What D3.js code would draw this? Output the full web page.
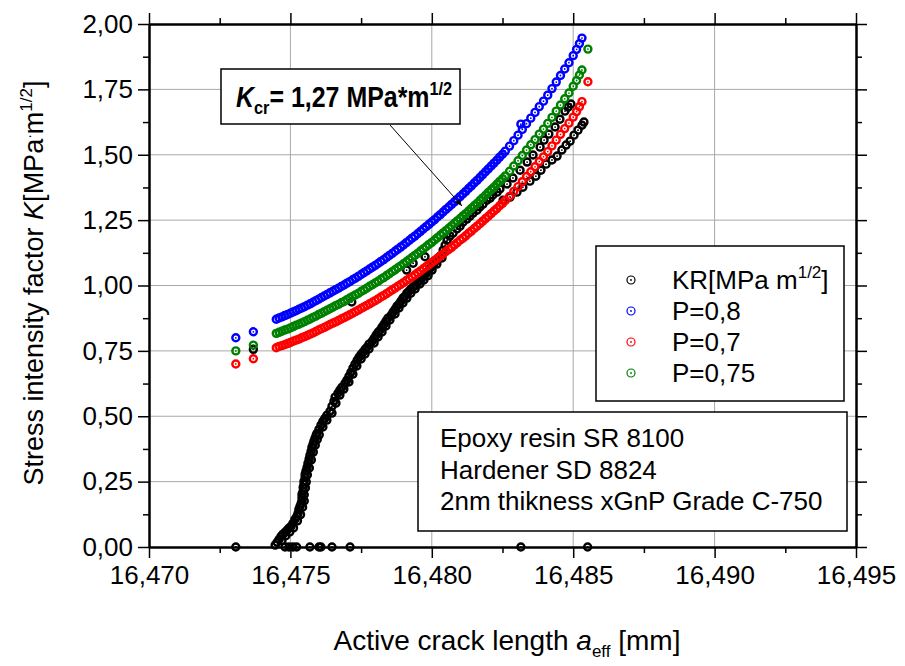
<!DOCTYPE html>
<html>
<head>
<meta charset="utf-8">
<script src="https://cdn.jsdelivr.net/npm/d3@7"></script>
<style>
  body { margin: 0; background: #fff; }
  svg { font-family: "Liberation Sans", Arial, sans-serif; }
</style>
</head>
<body>
<div id="chart"></div>
<script>
// Active crack length a_eff [mm] shared by the three P curves
const aModel = [
  16.4745, 16.4746, 16.4747, 16.4748, 16.4749, 16.4750, 16.4751, 16.4752, 16.4753, 16.4754,
  16.4755, 16.4756, 16.4757, 16.4758, 16.4759, 16.4760, 16.4761, 16.4762, 16.4763, 16.4764,
  16.4765, 16.4766, 16.4767, 16.4768, 16.4769, 16.4770, 16.4771, 16.4772, 16.4773, 16.4774,
  16.4775, 16.4776, 16.4777, 16.4778, 16.4779, 16.4780, 16.4781, 16.4782, 16.4783, 16.4784,
  16.4785, 16.4786, 16.4787, 16.4788, 16.4789, 16.4790, 16.4791, 16.4792, 16.4793, 16.4794,
  16.4795, 16.4796, 16.4797, 16.4798, 16.4799, 16.4800, 16.4801, 16.4802, 16.4803, 16.4804,
  16.4805, 16.4806, 16.4807, 16.4808, 16.4809, 16.4810, 16.4811, 16.4812, 16.4813, 16.4814,
  16.4815, 16.4816, 16.4817, 16.4818, 16.4819, 16.4820, 16.4821, 16.4822, 16.4823, 16.4824,
  16.4825, 16.4826,
  16.48275, 16.48290, 16.48305, 16.48320, 16.48335, 16.48350, 16.48365, 16.48380, 16.48395, 16.48410,
  16.48425, 16.48440, 16.48455, 16.48470, 16.48485, 16.48500, 16.48512, 16.48522, 16.48531
];
// K for P=0,8
const kP08 = [
  0.871, 0.876, 0.880, 0.885, 0.889, 0.894, 0.899, 0.904, 0.909, 0.914,
  0.919, 0.925, 0.930, 0.936, 0.942, 0.948, 0.954, 0.960, 0.966, 0.972,
  0.978, 0.984, 0.990, 0.996, 1.002, 1.009, 1.015, 1.022, 1.028, 1.035,
  1.042, 1.049, 1.056, 1.063, 1.070, 1.077, 1.084, 1.092, 1.099, 1.107,
  1.115, 1.123, 1.131, 1.139, 1.147, 1.155, 1.164, 1.172, 1.181, 1.189,
  1.198, 1.207, 1.216, 1.225, 1.234, 1.243, 1.252, 1.262, 1.271, 1.281,
  1.291, 1.300, 1.310, 1.320, 1.330, 1.340, 1.350, 1.360, 1.371, 1.381,
  1.392, 1.402, 1.413, 1.424, 1.435, 1.446, 1.457, 1.468, 1.479, 1.491,
  1.502, 1.514,
  1.533, 1.554, 1.575, 1.597, 1.619, 1.640, 1.662, 1.684, 1.705, 1.728,
  1.753, 1.778, 1.803, 1.828, 1.852, 1.879, 1.903, 1.925, 1.946
];
// K for P=0,75
const kP075 = [
  0.817, 0.821, 0.825, 0.830, 0.833, 0.838, 0.843, 0.848, 0.852, 0.857,
  0.862, 0.867, 0.872, 0.878, 0.883, 0.889, 0.894, 0.900, 0.906, 0.911,
  0.917, 0.923, 0.928, 0.934, 0.939, 0.946, 0.952, 0.958, 0.964, 0.970,
  0.977, 0.983, 0.990, 0.997, 1.003, 1.010, 1.016, 1.024, 1.030, 1.038,
  1.045, 1.053, 1.060, 1.068, 1.075, 1.083, 1.091, 1.099, 1.107, 1.115,
  1.123, 1.132, 1.140, 1.148, 1.157, 1.165, 1.174, 1.183, 1.192, 1.201,
  1.210, 1.219, 1.228, 1.238, 1.247, 1.256, 1.266, 1.275, 1.285, 1.295,
  1.305, 1.314, 1.325, 1.335, 1.345, 1.356, 1.366, 1.376, 1.387, 1.398,
  1.408, 1.419,
  1.437, 1.457, 1.477, 1.497, 1.518, 1.538, 1.558, 1.579, 1.598, 1.620,
  1.643, 1.667, 1.690, 1.714, 1.736, 1.762, 1.784, 1.805, 1.824
];
// K for P=0,7
const kP07 = [
  0.762, 0.767, 0.770, 0.774, 0.778, 0.782, 0.787, 0.791, 0.795, 0.800,
  0.804, 0.809, 0.814, 0.819, 0.824, 0.830, 0.835, 0.840, 0.845, 0.851,
  0.856, 0.861, 0.866, 0.872, 0.877, 0.883, 0.888, 0.894, 0.900, 0.906,
  0.912, 0.918, 0.924, 0.930, 0.936, 0.942, 0.949, 0.956, 0.962, 0.969,
  0.976, 0.983, 0.990, 0.997, 1.004, 1.011, 1.019, 1.026, 1.033, 1.040,
  1.048, 1.056, 1.064, 1.072, 1.080, 1.088, 1.096, 1.104, 1.112, 1.121,
  1.130, 1.138, 1.146, 1.155, 1.164, 1.173, 1.181, 1.190, 1.200, 1.208,
  1.218, 1.227, 1.236, 1.246, 1.256, 1.265, 1.275, 1.285, 1.294, 1.305,
  1.314, 1.325,
  1.341, 1.360, 1.378, 1.397, 1.417, 1.435, 1.454, 1.474, 1.492, 1.512,
  1.534, 1.556, 1.578, 1.600, 1.621, 1.644, 1.665, 1.684, 1.703
];
// isolated points of the P curves
const p08Extra = [[16.47307, 0.800], [16.47369, 0.823], [16.48315, 1.617]];
const p075Extra = [[16.47307, 0.750], [16.47369, 0.772], [16.48552, 1.904]];
const p07Extra = [[16.47307, 0.700], [16.47369, 0.720], [16.48552, 1.779]];

// measured KR curve [a_eff, K]
const krPoints = [
  [16.47446, 0.007], [16.47453, 0.018], [16.47460, 0.029], [16.47467, 0.041], [16.47474, 0.049],
  [16.47481, 0.056], [16.47488, 0.064], [16.47495, 0.072], [16.47502, 0.079], [16.47509, 0.091],
  [16.47516, 0.106], [16.47523, 0.117], [16.47527, 0.129], [16.47530, 0.144], [16.47534, 0.156],
  [16.47538, 0.167], [16.47541, 0.179], [16.47541, 0.190], [16.47541, 0.202], [16.47545, 0.213],
  [16.47545, 0.228], [16.47548, 0.240], [16.47548, 0.251], [16.47552, 0.267], [16.47552, 0.278],
  [16.47555, 0.290], [16.47559, 0.305], [16.47562, 0.320], [16.47566, 0.336], [16.47569, 0.351],
  [16.47573, 0.366], [16.47576, 0.381], [16.47580, 0.393], [16.47583, 0.404], [16.47587, 0.416],
  [16.47591, 0.427], [16.47594, 0.435], [16.47601, 0.450], [16.47608, 0.466], [16.47615, 0.481],
  [16.47622, 0.492], [16.47629, 0.504], [16.47640, 0.519], [16.47647, 0.538], [16.47654, 0.557],
  [16.47658, 0.573], [16.47668, 0.588], [16.47675, 0.600], [16.47682, 0.611], [16.47693, 0.626],
  [16.47700, 0.638], [16.47707, 0.653], [16.47714, 0.668], [16.47721, 0.684], [16.47728, 0.699],
  [16.47736, 0.714], [16.47743, 0.726], [16.47750, 0.737], [16.47757, 0.745], [16.47764, 0.756],
  [16.47771, 0.764], [16.47778, 0.776], [16.47789, 0.787], [16.47796, 0.798], [16.47803, 0.810],
  [16.47810, 0.821], [16.47817, 0.829], [16.47824, 0.841], [16.47831, 0.852], [16.47838, 0.864],
  [16.47845, 0.875], [16.47856, 0.886], [16.47863, 0.898], [16.47870, 0.909], [16.47877, 0.921],
  [16.47884, 0.929], [16.47891, 0.940], [16.47898, 0.952], [16.47905, 0.959], [16.47912, 0.971],
  [16.47919, 0.978], [16.47926, 0.986], [16.47934, 0.994], [16.47944, 1.001], [16.47951, 1.013],
  [16.47958, 1.020], [16.47965, 1.028], [16.47972, 1.040], [16.47980, 1.045], [16.47987, 1.055],
  [16.47994, 1.066], [16.48004, 1.078], [16.48011, 1.089], [16.48018, 1.101], [16.48029, 1.112],
  [16.48040, 1.135], [16.48047, 1.154],
  // lower-right edge of the dense KR band
  [16.47470, 0.024], [16.47484, 0.043], [16.47498, 0.058], [16.47511, 0.073], [16.47525, 0.100],
  [16.47536, 0.124], [16.47543, 0.152], [16.47549, 0.176], [16.47549, 0.200], [16.47553, 0.226],
  [16.47556, 0.249], [16.47560, 0.276], [16.47567, 0.302], [16.47574, 0.333], [16.47581, 0.363],
  [16.47588, 0.389], [16.47595, 0.411], [16.47602, 0.429], [16.47615, 0.459], [16.47629, 0.485],
  [16.47647, 0.512], [16.47661, 0.550], [16.47675, 0.581], [16.47689, 0.604], [16.47707, 0.631],
  [16.47721, 0.661], [16.47735, 0.692], [16.47750, 0.719], [16.47764, 0.738], [16.47778, 0.757],
  [16.47796, 0.780], [16.47810, 0.803], [16.47824, 0.822], [16.47838, 0.845], [16.47852, 0.868],
  [16.47870, 0.891], [16.47884, 0.914], [16.47898, 0.933], [16.47912, 0.952], [16.47926, 0.971],
  [16.47941, 0.987], [16.47958, 1.006], [16.47972, 1.021], [16.47987, 1.038], [16.48001, 1.059],
  [16.48018, 1.082], [16.48036, 1.105],
  // upper branch between P=0,75 and P=0,7
  [16.48054, 1.173], [16.48064, 1.189], [16.48075, 1.200], [16.48089, 1.216], [16.48100, 1.227],
  [16.48110, 1.242], [16.48124, 1.254], [16.48135, 1.265], [16.48146, 1.277], [16.48160, 1.288],
  [16.48170, 1.300], [16.48181, 1.311], [16.48195, 1.326], [16.48206, 1.334], [16.48216, 1.346],
  [16.48231, 1.357], [16.48241, 1.369], [16.48266, 1.388], [16.48287, 1.411], [16.48312, 1.441],
  [16.48337, 1.472], [16.48358, 1.499], [16.48383, 1.529], [16.48397, 1.556], [16.48414, 1.579],
  [16.48436, 1.606], [16.48453, 1.636], [16.48471, 1.667], [16.48482, 1.682], [16.48492, 1.694],
  // lower branch below P=0,7
  [16.48252, 1.326], [16.48277, 1.338], [16.48301, 1.357], [16.48322, 1.376], [16.48347, 1.399],
  [16.48368, 1.418], [16.48386, 1.441], [16.48404, 1.464], [16.48425, 1.480], [16.48443, 1.495],
  [16.48460, 1.518], [16.48475, 1.537], [16.48489, 1.552], [16.48503, 1.575], [16.48517, 1.594],
  [16.48531, 1.613], [16.48538, 1.625],
  // scattered points
  [16.47369, 0.756], [16.47717, 0.937], [16.47911, 1.059], [16.47934, 1.085], [16.47976, 1.110],
  [16.47307, 0], [16.47481, 0], [16.47495, 0], [16.47509, 0], [16.47522, 0], [16.47569, 0],
  [16.47601, 0], [16.47608, 0], [16.47647, 0], [16.47711, 0], [16.48315, 0], [16.48551, 0]
];

// axis ticks
const aTicks = [16.470, 16.475, 16.480, 16.485, 16.490, 16.495];
const aMinor = [16.4725, 16.4775, 16.4825, 16.4875, 16.4925];
const kTicks = [0, 0.25, 0.5, 0.75, 1.0, 1.25, 1.5, 1.75, 2.0];
const kMinor = [0.125, 0.375, 0.625, 0.875, 1.125, 1.375, 1.625, 1.875];

const series = [
  {name: 'KR', color: '#000000'},
  {name: 'P=0,8', color: '#0000ff'},
  {name: 'P=0,7', color: '#ff0000'},
  {name: 'P=0,75', color: '#008000'}
];

const svgW = 905, svgH = 666;
const margin = {top: 24, right: 49, bottom: 119, left: 149};
const width = svgW - margin.left - margin.right;
const height = svgH - margin.top - margin.bottom;

const svg = d3.select('#chart').append('svg').attr('width', svgW).attr('height', svgH);
const g = svg.append('g').attr('transform', `translate(${margin.left},${margin.top})`);

const x = d3.scaleLinear().domain([16.470, 16.495]).range([0, width]);
const y = d3.scaleLinear().domain([0, 2]).range([height, 0]);

const loc = d3.formatLocale({decimal: ',', thousands: '.', grouping: [3], currency: ['', '']});
const fmtA = loc.format('.3f');
const fmtK = loc.format('.2f');

// grid
g.append('g').selectAll('line').data(aTicks.slice(1, -1)).join('line')
  .attr('x1', d => x(d)).attr('x2', d => x(d)).attr('y1', 0).attr('y2', height)
  .attr('stroke', '#a8a8a8').attr('stroke-width', 1);
g.append('g').selectAll('line').data(kTicks.slice(1, -1)).join('line')
  .attr('x1', 0).attr('x2', width).attr('y1', d => y(d)).attr('y2', d => y(d))
  .attr('stroke', '#a8a8a8').attr('stroke-width', 1);

function styleAxis(sel) {
  sel.select('.domain').attr('stroke-width', 2);
  sel.selectAll('.tick line').attr('stroke-width', 1.5);
  sel.selectAll('.tick text').attr('font-size', 26).attr('fill', '#000')
    .attr('font-family', '"Liberation Sans", Arial, sans-serif');
}

// bottom / top
g.append('g').attr('transform', `translate(0,${height})`)
  .call(d3.axisBottom(x).tickValues(aTicks).tickSize(11).tickSizeOuter(0).tickPadding(8).tickFormat(fmtA))
  .call(styleAxis);
g.append('g').attr('transform', `translate(0,${height})`)
  .call(d3.axisBottom(x).tickValues(aMinor).tickSize(6).tickSizeOuter(0).tickFormat(''))
  .call(styleAxis);
g.append('g')
  .call(d3.axisTop(x).tickValues(aTicks).tickSize(11).tickSizeOuter(0).tickFormat(''))
  .call(styleAxis);
g.append('g')
  .call(d3.axisTop(x).tickValues(aMinor).tickSize(6).tickSizeOuter(0).tickFormat(''))
  .call(styleAxis);
// left / right
g.append('g')
  .call(d3.axisLeft(y).tickValues(kTicks).tickSize(11).tickSizeOuter(0).tickPadding(5).tickFormat(fmtK))
  .call(styleAxis);
g.append('g')
  .call(d3.axisLeft(y).tickValues(kMinor).tickSize(6).tickSizeOuter(0).tickFormat(''))
  .call(styleAxis);
g.append('g').attr('transform', `translate(${width},0)`)
  .call(d3.axisRight(y).tickValues(kTicks).tickSize(11).tickSizeOuter(0).tickFormat(''))
  .call(styleAxis);
g.append('g').attr('transform', `translate(${width},0)`)
  .call(d3.axisRight(y).tickValues(kMinor).tickSize(6).tickSizeOuter(0).tickFormat(''))
  .call(styleAxis);

// scatter markers: open circle with a centre dot
function drawPoints(points, color) {
  const layer = g.append('g');
  const pt = layer.selectAll('g').data(points).join('g')
    .attr('transform', d => `translate(${x(d[0])},${y(d[1])})`);
  pt.append('circle').attr('r', 3.5).attr('fill', 'none').attr('stroke', color).attr('stroke-width', 2.4);
  pt.append('circle').attr('r', 0.9).attr('fill', color);
}

drawPoints(krPoints, series[0].color);
drawPoints(aModel.map((a, i) => [a, kP08[i]]).concat(p08Extra), series[1].color);
drawPoints(aModel.map((a, i) => [a, kP07[i]]).concat(p07Extra), series[2].color);
drawPoints(aModel.map((a, i) => [a, kP075[i]]).concat(p075Extra), series[3].color);

// axis titles
const yTitle = svg.append('text').attr('transform', 'translate(43,283) rotate(-90)')
  .attr('text-anchor', 'middle').attr('font-size', 27);
yTitle.append('tspan').text('Stress intensity factor ');
yTitle.append('tspan').attr('font-style', 'italic').text('K');
yTitle.append('tspan').text('[MPa');
yTitle.append('tspan').attr('font-size', 14).attr('dy', -9).text('·');
yTitle.append('tspan').attr('dy', 9).text('m');
yTitle.append('tspan').attr('font-size', 17).attr('dy', -11).text('1/2');
yTitle.append('tspan').attr('dy', 11).text(']');

const xTitle = svg.append('text').attr('x', 507).attr('y', 650)
  .attr('text-anchor', 'middle').attr('font-size', 28);
xTitle.append('tspan').text('Active crack length ');
xTitle.append('tspan').attr('font-style', 'italic').text('a');
xTitle.append('tspan').attr('font-size', 17).attr('dy', 7).text('eff');
xTitle.append('tspan').attr('dy', -7).text(' [mm]');

// Kcr annotation
svg.append('defs').append('marker').attr('id', 'arr')
  .attr('viewBox', '0 0 10 10').attr('refX', 10).attr('refY', 5)
  .attr('markerWidth', 9).attr('markerHeight', 7).attr('orient', 'auto')
  .append('path').attr('d', 'M0,1 L10,5 L0,9 z').attr('fill', '#000');
svg.append('line').attr('x1', 390).attr('y1', 125).attr('x2', 462).attr('y2', 206)
  .attr('stroke', '#000').attr('stroke-width', 1).attr('marker-end', 'url(#arr)');
svg.append('rect').attr('x', 221).attr('y', 69).attr('width', 239).attr('height', 55)
  .attr('fill', '#fff').attr('stroke', '#000').attr('stroke-width', 1.5);
const kcr = svg.append('text').attr('transform', 'translate(236,107) scale(0.86,1)')
  .attr('font-size', 29).attr('font-weight', 'bold');
kcr.append('tspan').attr('font-style', 'italic').text('K');
kcr.append('tspan').attr('font-size', 19).attr('dy', 7).text('cr');
kcr.append('tspan').attr('dy', -7).text('= 1,27 MPa*m');
kcr.append('tspan').attr('font-size', 19).attr('dy', -12).text('1/2');

// legend
const leg = svg.append('g');
leg.append('rect').attr('x', 596).attr('y', 246).attr('width', 248).attr('height', 155)
  .attr('fill', '#fff').attr('stroke', '#000').attr('stroke-width', 1.5);
series.forEach((s, i) => {
  const ry = 280 + i * 31;
  leg.append('circle').attr('cx', 631).attr('cy', ry).attr('r', 4)
    .attr('fill', 'none').attr('stroke', s.color).attr('stroke-width', 1.2);
  leg.append('circle').attr('cx', 631).attr('cy', ry).attr('r', 0.9).attr('fill', s.color);
  const t = leg.append('text').attr('x', 672).attr('y', ry + 9).attr('font-size', 26);
  if (s.name === 'KR') {
    t.append('tspan').text('KR[MPa m');
    t.append('tspan').attr('font-size', 17).attr('dy', -11).text('1/2');
    t.append('tspan').attr('dy', 11).text(']');
  } else {
    t.text(s.name);
  }
});

// material note
const note = ['Epoxy resin SR 8100', 'Hardener SD 8824', '2nm thikness xGnP Grade C-750'];
svg.append('rect').attr('x', 418).attr('y', 412).attr('width', 429).attr('height', 119)
  .attr('fill', '#fff').attr('stroke', '#000').attr('stroke-width', 1.5);
note.forEach((line, i) => {
  svg.append('text').attr('x', 440).attr('y', 447 + i * 31.5).attr('font-size', 26).text(line);
});
</script>
</body>
</html>
